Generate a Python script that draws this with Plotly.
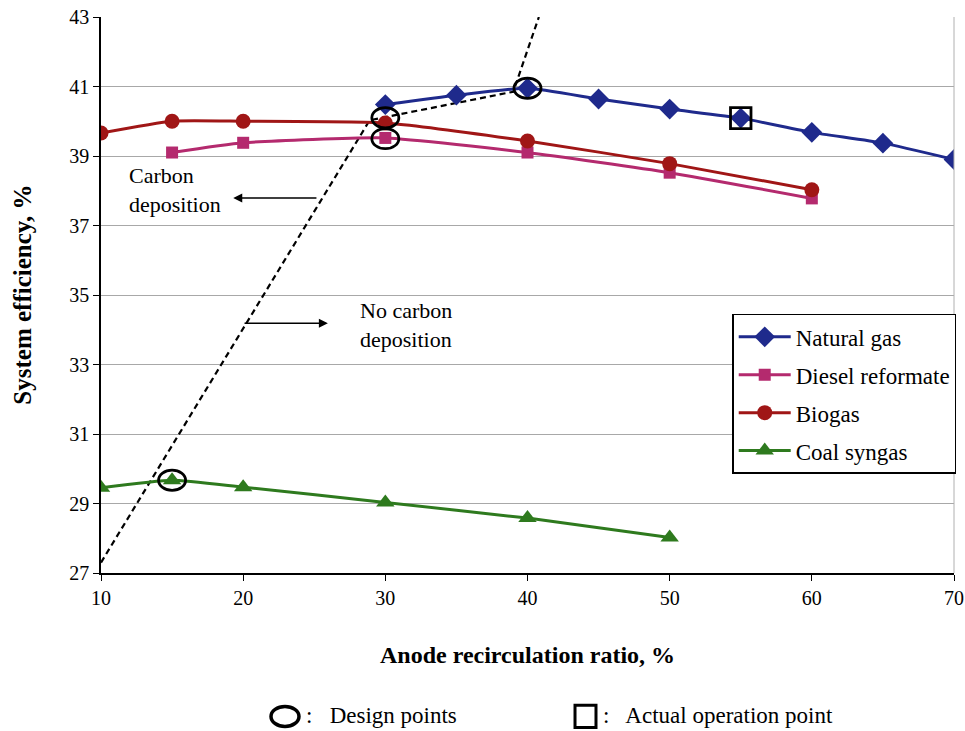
import plotly.graph_objects as go

# ---- data ----
ng_x = [30, 35, 40, 45, 50, 55, 60, 65, 70]
ng_y = [40.48, 40.75, 40.95, 40.64, 40.35, 40.09, 39.68, 39.37, 38.90]

dr_x = [15, 20, 30, 40, 50, 60]
dr_y = [39.10, 39.38, 39.52, 39.10, 38.52, 37.78]

bg_x = [10, 15, 20, 30, 40, 50, 60]
bg_y = [39.66, 40.00, 40.00, 39.95, 39.43, 38.78, 38.03]

cs_x = [10, 15, 20, 30, 40, 50]
cs_y = [29.45, 29.67, 29.47, 29.03, 28.58, 28.02]

# carbon deposition boundary (dashed polyline)
bd_x = [10, 28.9, 39.0, 40.8]
bd_y = [27.3, 40.03, 40.85, 43.0]

# design points (ellipses) and actual operation point (square)
design_x = [30, 30, 40, 15]
design_y = [40.10, 39.50, 40.95, 29.67]
actual_x = [55]
actual_y = [40.09]

x_ticks = [10, 20, 30, 40, 50, 60, 70]
y_ticks = [27, 29, 31, 33, 35, 37, 39, 41, 43]

FONT = "'Liberation Serif', 'Times New Roman', serif"
C_NG = "#1f2a8c"
C_DR = "#b42a6e"
C_BG = "#a01616"
C_CS = "#2e7a1e"

fig = go.Figure()

fig.add_trace(go.Scatter(x=bd_x, y=bd_y, mode="lines", showlegend=False,
                         line=dict(color="black", width=2.2, dash="6px,4px"), hoverinfo="skip"))

series = [
    ("Natural gas", ng_x, ng_y, C_NG, "diamond", 16),
    ("Diesel reformate", dr_x, dr_y, C_DR, "square", 12),
    ("Biogas", bg_x, bg_y, C_BG, "circle", 15),
    ("Coal syngas", cs_x, cs_y, C_CS, "triangle-up", 16),
]
for i, (name, xs, ys, col, sym, sz) in enumerate(series):
    fig.add_trace(go.Scatter(
        x=xs, y=ys, name=name, mode="lines+markers", legendgroup=f"g{i}",
        line=dict(color=col, width=3, shape="spline", smoothing=0.5),
        marker=dict(symbol=sym, size=sz, color=col)))

shapes = []
# ellipses around design points
for xv, yv in zip(design_x, design_y):
    shapes.append(dict(type="circle", xref="x", yref="y", layer="above",
                       x0=xv - 0.95, x1=xv + 0.95, y0=yv - 0.29, y1=yv + 0.29,
                       line=dict(color="black", width=2.8)))
# square around actual operation point
for xv, yv in zip(actual_x, actual_y):
    shapes.append(dict(type="rect", xref="x", yref="y", layer="above",
                       x0=xv - 0.72, x1=xv + 0.72, y0=yv - 0.30, y1=yv + 0.30,
                       line=dict(color="black", width=2.8)))
# right border of plot
shapes.append(dict(type="line", xref="paper", yref="paper", x0=1, x1=1, y0=0, y1=1,
                   line=dict(color="#b0b0b0", width=1)))
# bottom key symbols
shapes.append(dict(type="circle", xref="paper", yref="paper",
                   x0=0.1993, x1=0.2321, y0=-0.240, y1=-0.276,
                   line=dict(color="black", width=3.5)))
shapes.append(dict(type="rect", xref="paper", yref="paper",
                   x0=0.5557, x1=0.5803, y0=-0.238, y1=-0.278,
                   line=dict(color="black", width=3)))

annotations = [
    dict(text="Carbon<br>deposition", x=11.8, y=38.02, xref="x", yref="y",
         xanchor="left", yanchor="middle", align="left", showarrow=False,
         font=dict(family=FONT, size=22, color="black")),
    dict(text="No carbon<br>deposition", x=28.1, y=34.14, xref="x", yref="y",
         xanchor="left", yanchor="middle", align="left", showarrow=False,
         font=dict(family=FONT, size=22, color="black")),
    dict(text="", x=19.3, y=37.79, ax=25.26, ay=37.79, xref="x", yref="y",
         axref="x", ayref="y", showarrow=True, arrowhead=2, arrowsize=1.2,
         arrowwidth=1.5, arrowcolor="black"),
    dict(text="", x=25.96, y=34.19, ax=19.99, ay=34.19, xref="x", yref="y",
         axref="x", ayref="y", showarrow=True, arrowhead=2, arrowsize=1.2,
         arrowwidth=1.5, arrowcolor="black"),
    dict(text="<b>System efficiency, %</b>", xref="paper", yref="paper",
         x=-0.093, y=0.5, textangle=-90, showarrow=False,
         xanchor="center", yanchor="middle",
         font=dict(family=FONT, size=25, color="black")),
    dict(text="<b>Anode recirculation ratio, %</b>", xref="paper", yref="paper",
         x=0.5, y=-0.147, showarrow=False, xanchor="center", yanchor="middle",
         font=dict(family=FONT, size=24, color="black")),
    dict(text=":   Design points", xref="paper", yref="paper",
         x=0.238, y=-0.257, showarrow=False, xanchor="left", yanchor="middle",
         font=dict(family=FONT, size=23, color="black")),
    dict(text=":   Actual operation point", xref="paper", yref="paper",
         x=0.586, y=-0.257, showarrow=False, xanchor="left", yanchor="middle",
         font=dict(family=FONT, size=23, color="black")),
]

fig.update_layout(
    width=965, height=731,
    margin=dict(l=101, r=11, t=17, b=158, autoexpand=False),
    paper_bgcolor="white", plot_bgcolor="white",
    font=dict(family=FONT, size=20, color="black"),
    shapes=shapes, annotations=annotations,
    legend=dict(x=0.74, y=0.466, xanchor="left", yanchor="top",
                bgcolor="white", bordercolor="black", borderwidth=1.5,
                font=dict(family=FONT, size=23, color="black"),
                tracegroupgap=5, itemwidth=52),
)
fig.update_xaxes(range=[10, 70], tickvals=x_ticks, showgrid=False, automargin=False,
                 showline=True, linecolor="black", linewidth=1.5,
                 ticks="outside", ticklen=6, tickcolor="black",
                 tickfont=dict(family=FONT, size=20, color="black"),
                 zeroline=False)
fig.update_yaxes(range=[27, 43], tickvals=y_ticks, showgrid=True, automargin=False,
                 gridcolor="#a8a8a8", gridwidth=1,
                 showline=True, linecolor="black", linewidth=1.5,
                 ticks="outside", ticklen=6, tickcolor="black",
                 tickfont=dict(family=FONT, size=20, color="black"),
                 zeroline=False)

fig.write_html("out.html", config={"displayModeBar": False},
               post_script="document.body.style.margin='0';document.body.style.overflow='hidden';")
